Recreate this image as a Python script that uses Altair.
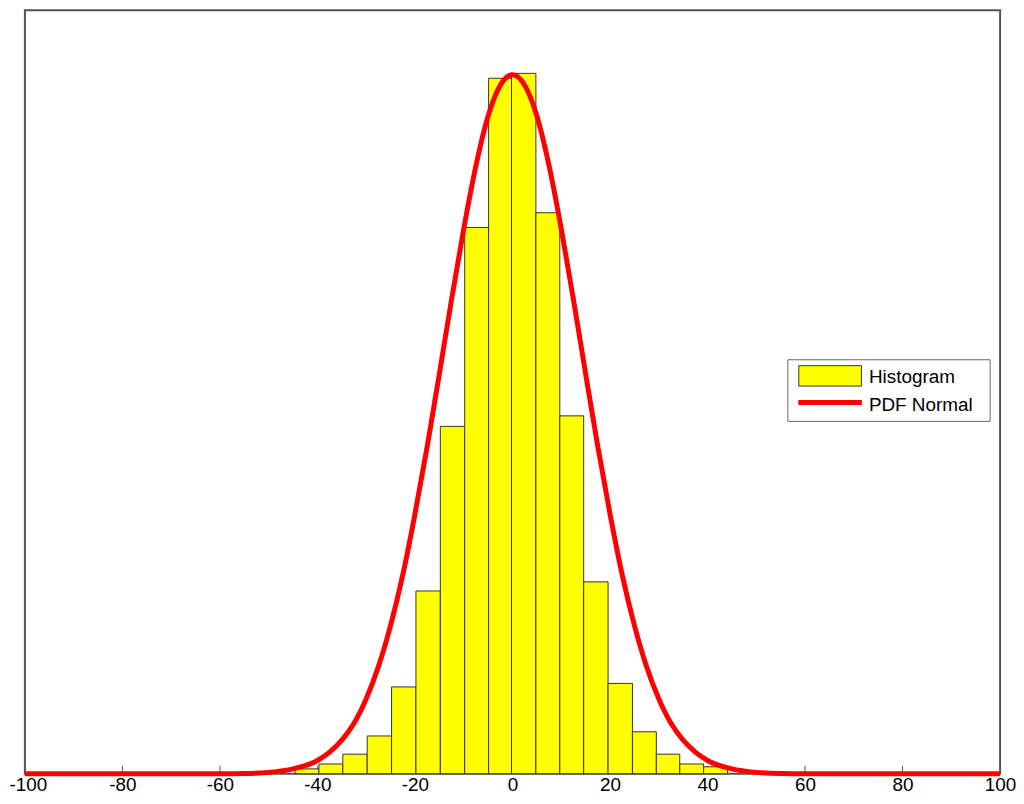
import altair as alt
import pandas as pd

# Histogram bins (edges) and bar heights
bin_start = [-44.6, -39.7, -34.8, -29.8, -24.8, -19.8, -14.8, -9.8, -4.9,
             -0.2, 4.8, 9.7, 14.6, 19.6, 24.6, 29.5, 34.3, 39.2]
bin_end = [-39.7, -34.8, -29.8, -24.8, -19.8, -14.8, -9.8, -4.9, -0.2,
           4.8, 9.7, 14.6, 19.6, 24.6, 29.5, 34.3, 39.2, 44.1]
counts = [7, 14, 28, 54, 124, 261, 496, 780, 993,
          1000, 801, 511, 274, 129, 60, 28, 14, 10]

# Normal PDF curve points
curve_x = [-100, -60, -55, -50, -45, -40, -37.5, -35, -32.5, -30, -27.5, -25,
           -22.5, -20, -17.5, -15, -12.5, -10, -7.5, -5, -2.5, 0,
           2.5, 5, 7.5, 10, 12.5, 15, 17.5, 20, 22.5, 25, 27.5, 30,
           32.5, 35, 37.5, 40, 45, 50, 55, 60, 100]
curve_y = [0, 0, 0.4, 2, 7, 19, 31, 48, 72, 107, 153, 212,
           284, 371, 467, 571, 677, 778, 868, 939, 983, 998,
           983, 939, 868, 778, 677, 571, 467, 371, 284, 212, 153, 107,
           72, 48, 31, 19, 7, 2, 0.4, 0, 0]

axis_values = [-100, -80, -60, -40, -20, 0, 20, 40, 60, 80, 100]
inner_ticks = [-80, -60, -40, -20, 0, 20, 40, 60, 80]
legend_labels = ["Histogram", "PDF Normal"]

FONT = "Liberation Sans"
W, H = 981, 768

xscale = alt.Scale(domain=[-100, 100], nice=False, zero=False)
yscale = alt.Scale(domain=[0, 1090], nice=False)

bars_df = pd.DataFrame({"start": bin_start, "end": bin_end, "count": counts})
curve_df = pd.DataFrame({"x": curve_x, "y": curve_y})
ticks_df = pd.DataFrame({"t": inner_ticks})
one = pd.DataFrame({"a": [0]})

ticks = alt.Chart(ticks_df).mark_rule(color="#555555", strokeWidth=1).encode(
    x=alt.X("t:Q", scale=xscale,
            axis=alt.Axis(values=axis_values, title=None,
                          labelExpr="'' + datum.value",
                          labelFont=FONT, labelFontSize=19, labelColor="black",
                          labelOffset=alt.ExprRef(expr="datum.value == -100 ? 3 : 0"),
                          ticks=False, domain=False, grid=False,
                          labelPadding=2, labelFlush=False)),
    y=alt.value(H - 8), y2=alt.value(H),
)

bars = alt.Chart(bars_df).mark_rect(
    fill="#FFFF00", stroke="#333333", strokeWidth=1
).encode(
    x=alt.X("start:Q", scale=xscale),
    x2="end:Q",
    y=alt.Y("count:Q", scale=yscale, axis=None),
    y2=alt.datum(0),
)

curve = alt.Chart(curve_df).mark_line(
    color="#FF0000", strokeWidth=5, interpolate="monotone"
).encode(
    x=alt.X("x:Q", scale=xscale),
    y=alt.Y("y:Q", scale=yscale, axis=None),
)

legend_box = alt.Chart(one).mark_rect(
    fill="white", stroke="#666666", strokeWidth=1
).encode(x=alt.value(767.5), x2=alt.value(971), y=alt.value(351.5), y2=alt.value(413.5))

swatch_bar = alt.Chart(one).mark_rect(
    fill="#FFFF00", stroke="#333333", strokeWidth=1
).encode(x=alt.value(778.5), x2=alt.value(841.5), y=alt.value(357.5), y2=alt.value(378))

swatch_line = alt.Chart(one).mark_rule(color="#FF0000", strokeWidth=5).encode(
    x=alt.value(778), x2=alt.value(842), y=alt.value(394.5)
)

text1 = alt.Chart(pd.DataFrame({"label": [legend_labels[0]]})).mark_text(
    align="left", baseline="middle", font=FONT, fontSize=19, color="black"
).encode(text="label:N", x=alt.value(849), y=alt.value(369))

text2 = alt.Chart(pd.DataFrame({"label": [legend_labels[1]]})).mark_text(
    align="left", baseline="middle", font=FONT, fontSize=19, color="black"
).encode(text="label:N", x=alt.value(849), y=alt.value(397))

chart = alt.layer(
    ticks, bars, curve, legend_box, swatch_bar, swatch_line, text1, text2
).properties(
    width=W, height=H,
    autosize=alt.AutoSizeParams(type="none"),
    padding={"left": 17, "top": 0, "right": 16, "bottom": 20},
    background="white",
).configure_view(stroke="#555555", strokeWidth=2)

chart.save("out.html", embed_options={"renderer": "svg", "actions": False})
